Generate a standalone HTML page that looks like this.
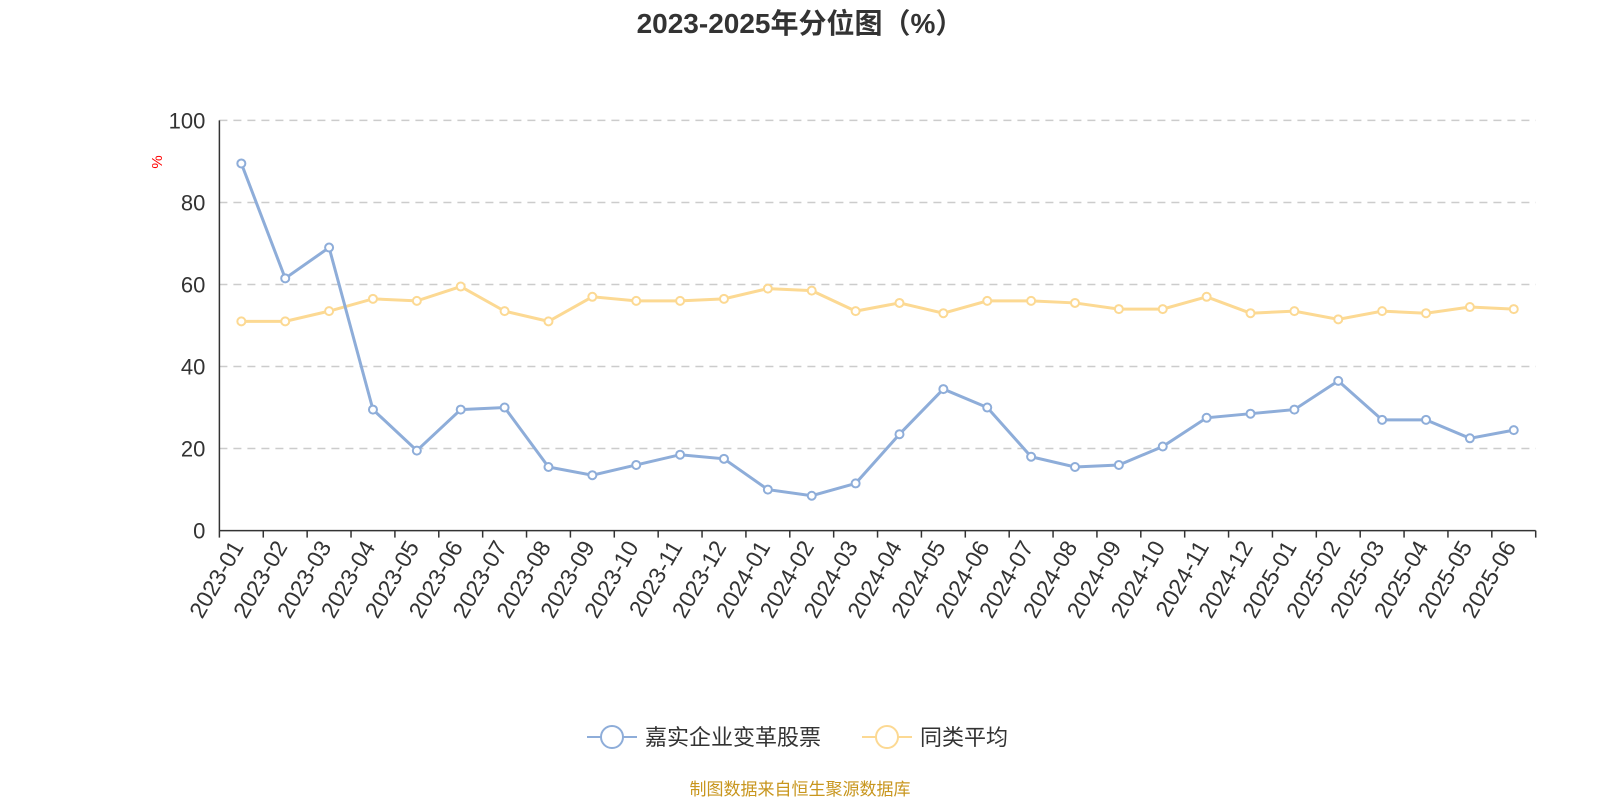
<!DOCTYPE html>
<html><head><meta charset="utf-8"><style>
body{margin:0;background:#fff;width:1600px;height:800px;overflow:hidden;font-family:"Liberation Sans","Noto Sans CJK SC",sans-serif}
</style></head><body>
<svg id="c" width="1600" height="800" xmlns="http://www.w3.org/2000/svg" font-family="Liberation Sans, Noto Sans CJK SC, sans-serif"></svg>
<script>
const categories=["2023-01","2023-02","2023-03","2023-04","2023-05","2023-06","2023-07","2023-08","2023-09","2023-10","2023-11","2023-12","2024-01","2024-02","2024-03","2024-04","2024-05","2024-06","2024-07","2024-08","2024-09","2024-10","2024-11","2024-12","2025-01","2025-02","2025-03","2025-04","2025-05","2025-06"];
const fundValues=[89.5,61.5,69,29.5,19.5,29.5,30,15.5,13.5,16,18.5,17.5,10,8.5,11.5,23.5,34.5,30,18,15.5,16,20.5,27.5,28.5,29.5,36.5,27,27,22.5,24.5];
const avgValues=[51,51,53.5,56.5,56,59.5,53.5,51,57,56,56,56.5,59,58.5,53.5,55.5,53,56,56,55.5,54,54,57,53,53.5,51.5,53.5,53,54.5,54];
const yTicks=[0,20,40,60,80,100];
const svg=document.getElementById('c');const NS='http://www.w3.org/2000/svg';
const X0=219.4,X1=1535.7,Y0=530.6,Y1=120.4;
const bw=(X1-X0)/categories.length;
const xs=i=>X0+bw*(i+0.5);
const ys=v=>Y0+(Y1-Y0)*v/100;
function mk(t,a,txt){const e=document.createElementNS(NS,t);for(const k in a)e.setAttribute(k,a[k]);if(txt!=null)e.textContent=txt;svg.appendChild(e);return e;}
let t=mk('text',{x:800,y:33,'text-anchor':'middle','font-size':28,'font-weight':'bold',fill:'#333'},'2023-2025年分位图（%）');


t=mk('text',{x:162,y:162,'font-size':15,fill:'red',transform:'rotate(-90 162 162)','text-anchor':'middle'},'%');


yTicks.forEach(v=>{
 if(v>0){const g=mk('line',{x1:X0,x2:X1,y1:ys(v),y2:ys(v),stroke:'#ccc','stroke-dasharray':'8,6','stroke-width':1.5});
 
 }
 const l=mk('text',{x:X0-14,y:ys(v)+8,'text-anchor':'end','font-size':22,fill:'#333'},v);
 
 
});
let a=mk('line',{x1:X0,x2:X0,y1:Y1,y2:Y0,stroke:'#333','stroke-width':1.5});


a=mk('line',{x1:X0,x2:X1,y1:Y0,y2:Y0,stroke:'#333','stroke-width':1.5});


for(let i=0;i<=categories.length;i++){const x=X0+bw*i;const tk=mk('line',{x1:x,x2:x,y1:Y0,y2:Y0+7,stroke:'#333','stroke-width':1.5});

}
categories.forEach((c,i)=>{const x=xs(i)+3,y=Y0+16;
 const l=mk('text',{x:x,y:y,'text-anchor':'end','font-size':23,fill:'#333',transform:`rotate(-60 ${x} ${y})`},c);
 
 });
function series(vals,color,name){
 const p=mk('polyline',{points:vals.map((v,i)=>xs(i)+','+ys(v)).join(' '),fill:'none',stroke:color,'stroke-width':3});
 
 
 vals.forEach((v,i)=>{const c=mk('circle',{cx:xs(i),cy:ys(v),r:4,fill:'#fff',stroke:color,'stroke-width':2});
 
 });
}
series(avgValues,'#fcd993','average');
series(fundValues,'#8eadd9','fund');
function legend(x,color,label,name){
 const l=mk('line',{x1:x,x2:x+50,y1:737,y2:737,stroke:color,'stroke-width':2});
 
 
 const c=mk('circle',{cx:x+25,cy:737,r:11,fill:'#fff',stroke:color,'stroke-width':2});
 
 
 const t=mk('text',{x:x+58,y:745,'font-size':22,fill:'#333'},label);
 
 
}
legend(587,'#8eadd9','嘉实企业变革股票','fund');
legend(862,'#fcd993','同类平均','average');
t=mk('text',{x:800,y:795,'text-anchor':'middle','font-size':17,fill:'#c8961e'},'制图数据来自恒生聚源数据库');


</script>
</body></html>
